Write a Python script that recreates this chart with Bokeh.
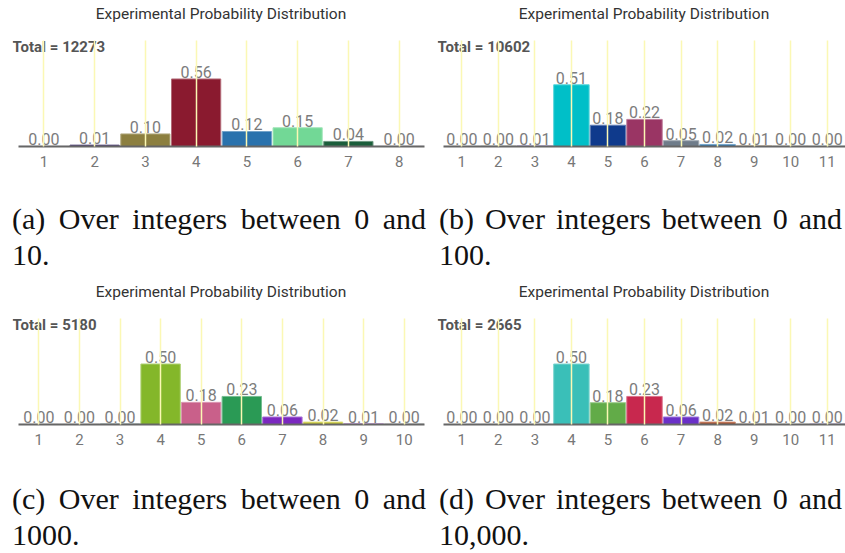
from bokeh.plotting import figure
from bokeh.models import Range1d, FixedTicker, Label, Div, ColumnDataSource
from bokeh.layouts import row, column
from bokeh.embed import file_html
from bokeh.resources import INLINE
from bokeh.core.properties import value

chart_title = "Experimental Probability Distribution"

# (a) integers between 0 and 10
cats_a = [1, 2, 3, 4, 5, 6, 7, 8]
probs_a = [0.002, 0.012, 0.104, 0.558, 0.124, 0.155, 0.042, 0.002]
colors_a = ["#c9c3e3", "#2e1a5e", "#8c7f3f", "#8a1a2f", "#2a72ad", "#72d896", "#1b5e3b", "#bdb6d4"]
total_a = 12273
caption_a = ["(a) Over integers between 0 and", "10."]

# (b) integers between 0 and 100
cats_b = [1, 2, 3, 4, 5, 6, 7, 8, 9, 10, 11]
probs_b = [0.002, 0.003, 0.008, 0.510, 0.176, 0.224, 0.048, 0.017, 0.006, 0.003, 0.002]
colors_b = ["#d4d4d4", "#8fa596", "#b7a6e6", "#00bfc8", "#0f3a8c", "#9a3564", "#6f7c8a", "#2a7ab8", "#e0c09a", "#cfcfb0", "#a8e0e8"]
total_b = 10602
caption_b = ["(b) Over integers between 0 and", "100."]

# (c) integers between 0 and 1000
cats_c = [1, 2, 3, 4, 5, 6, 7, 8, 9, 10]
probs_c = [0.002, 0.002, 0.004, 0.500, 0.183, 0.232, 0.062, 0.020, 0.008, 0.003]
colors_c = ["#cccccc", "#cccccc", "#5e8e8a", "#84b72a", "#c9608a", "#2a9a55", "#7b28c0", "#c8c830", "#c080e0", "#7f8c8c"]
total_c = 5180
caption_c = ["(c) Over integers between 0 and", "1000."]

# (d) integers between 0 and 10,000
cats_d = [1, 2, 3, 4, 5, 6, 7, 8, 9, 10, 11]
probs_d = [0.002, 0.002, 0.003, 0.500, 0.180, 0.232, 0.062, 0.020, 0.008, 0.003, 0.004]
colors_d = ["#d0d0d0", "#d0d0d0", "#dddddd", "#3abfb8", "#62ab48", "#c8284e", "#6a30c8", "#b0502a", "#d8c8b8", "#dcdcc0", "#9a7ad8"]
total_d = 2665
caption_d = ["(d) Over integers between 0 and", "10,000."]

FRAME_H = 106
PX_PER_UNIT = 121.0
Y_MAX = FRAME_H / PX_PER_UNIT
PAD = 6  # room at the left of the frame for the "Total" label


def lighten(c, f=0.35):
    r, g, b = int(c[1:3], 16), int(c[3:5], 16), int(c[5:7], 16)
    return "#%02x%02x%02x" % tuple(int(v + (255 - v) * f) for v in (r, g, b))


def make_panel(cats, probs, colors, total, axis_w, left, right, top, bottom):
    n = len(cats)
    src = ColumnDataSource(dict(
        x=cats, top=probs, color=colors,
        line=[lighten(c) for c in colors],
        label=[f"{v:.2f}" for v in probs],
    ))
    x_start = 0.5 - PAD * n / axis_w
    p = figure(width=left + PAD + axis_w + right, height=top + FRAME_H + bottom,
               x_range=Range1d(x_start, n + 0.5), y_range=Range1d(0, Y_MAX),
               output_backend="svg", toolbar_location=None, y_axis_location=None,
               min_border_left=left, min_border_right=right,
               min_border_top=top, min_border_bottom=bottom)
    p.outline_line_color = None
    p.background_fill_color = "white"
    p.border_fill_color = "white"

    p.vbar(x="x", top="top", bottom=0, width=0.97, fill_color="color",
           line_color="line", line_width=1, source=src)
    p.text(x="x", y="top", text="label", text_align="center", text_baseline="bottom",
           y_offset=-1, text_font=value("Roboto"), text_font_size="16px",
           text_color="#7c7c7c", source=src)

    ticker = FixedTicker(ticks=cats)
    p.xgrid.ticker = ticker
    p.xgrid.grid_line_color = "#fbf8b4"
    p.xgrid.grid_line_width = 1.5
    p.xgrid.level = "overlay"
    p.ygrid.visible = False

    ax = p.xaxis[0]
    ax.ticker = ticker
    ax.bounds = (0.5, n + 0.5)
    ax.major_label_text_font = "Roboto"
    ax.major_label_text_font_size = "15px"
    ax.major_label_text_color = "#777777"
    ax.axis_line_color = "#666666"
    ax.axis_line_width = 2
    ax.major_tick_line_color = None
    ax.minor_tick_line_color = None
    ax.major_tick_out = 0
    ax.major_tick_in = 0
    ax.major_label_standoff = 9

    p.add_layout(Label(x=x_start, y=Y_MAX, x_units="data", y_units="data",
                       x_offset=0, y_offset=-6, text=f"Total = {total}",
                       text_font="Roboto", text_font_size="15px", text_font_style="bold",
                       text_color="#555555", text_align="left", text_baseline="middle"))
    return p


def title_div(width, pad_left, inner_w):
    html = (
        f'<div style="box-sizing:border-box;width:{width}px;padding-left:{pad_left}px;">'
        f'<div style="width:{inner_w}px;text-align:center;font-family:Roboto,sans-serif;'
        f'font-size:15.5px;line-height:28px;color:#333333;white-space:nowrap;">'
        f'{chart_title}</div></div>'
    )
    return Div(text=html, width=width, height=28, margin=(0, 0, 0, 0))


def caption(lines, width, height, pad_left, pad_top, line_w):
    html = (
        f'<div style="box-sizing:border-box;width:{width}px;overflow:hidden;'
        f'padding-left:{pad_left}px;padding-top:{pad_top}px;'
        f'font-family:\'Liberation Serif\',serif;font-size:30px;line-height:36px;color:#111111;">'
        f'<div style="width:{line_w}px;text-align:justify;text-align-last:justify;">{lines[0]}</div>'
        f'<div>{lines[1]}</div></div>'
    )
    return Div(text=html, width=width, height=height, margin=(0, 0, 0, 0))


fa = make_panel(cats_a, probs_a, colors_a, total_a, 406, 12, 7, 12, 39)
fb = make_panel(cats_b, probs_b, colors_b, total_b, 402, 6, 0, 12, 39)
fc = make_panel(cats_c, probs_c, colors_c, total_c, 406, 12, 7, 12, 39)
fd = make_panel(cats_d, probs_d, colors_d, total_d, 402, 6, 0, 12, 39)

ta, tb = title_div(431, 18, 406), title_div(414, 12, 402)
tc, td = title_div(431, 18, 406), title_div(414, 12, 402)

ca = caption(caption_a, 431, 93, 12, 16, 414)
cb = caption(caption_b, 414, 93, 8, 16, 403)
cc = caption(caption_c, 431, 90, 12, 18, 414)
cd = caption(caption_d, 414, 90, 8, 18, 403)

layout = column(row(ta, tb), row(fa, fb), row(ca, cb),
                row(tc, td), row(fc, fd), row(cc, cd))

open("out.html", "w").write(file_html(layout, INLINE))
